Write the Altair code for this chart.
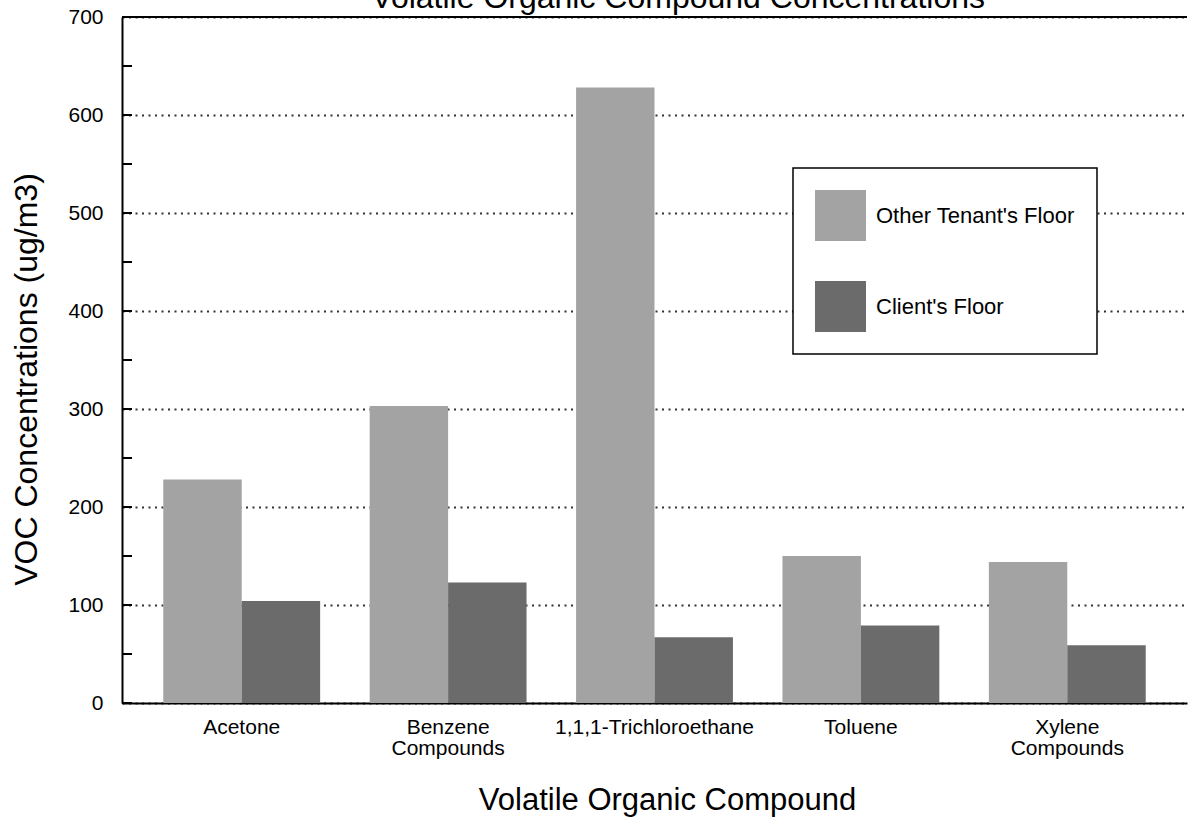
import altair as alt
import pandas as pd

# Category labels and measured concentrations (ug/m3)
compounds = ["Acetone", "Benzene Compounds", "1,1,1-Trichloroethane", "Toluene", "Xylene Compounds"]
floors = ["Other Tenant's Floor", "Client's Floor"]
other_tenant = [228, 303, 628, 150, 144]
client_floor = [104, 123, 67, 79, 59]

# Axis tick values (major every 100, minor every 50)
y_labels = [0, 100, 200, 300, 400, 500, 600, 700]
y_ticks = [0, 50, 100, 150, 200, 250, 300, 350, 400, 450, 500, 550, 600, 650, 700]

title_text = "Volatile Organic Compound Concentrations"

W, H = 1065, 686
FONT = "Liberation Sans"

rows = []
for c, o, k in zip(compounds, other_tenant, client_floor):
    rows.append({"compound": c, "floor": floors[0], "value": o})
    rows.append({"compound": c, "floor": floors[1], "value": k})
df = pd.DataFrame(rows)

y_scale = alt.Scale(domain=[0, 700], nice=False)

bars = alt.Chart(df).mark_bar(strokeWidth=0).encode(
    x=alt.X(
        "compound:N",
        sort=compounds,
        title="Volatile Organic Compound",
        scale=alt.Scale(paddingInner=0.24, paddingOuter=0.2),
        axis=alt.Axis(
            labelAngle=0,
            labelExpr="split(datum.label, ' ')",
            labelFontSize=21,
            labelLineHeight=21,
            labelPadding=13,
            labelColor="black",
            labelLimit=0,
            ticks=False,
            domainColor="black",
            domainWidth=2,
            titleFontSize=31,
            titleFontWeight="normal",
            titleColor="black",
            titlePadding=27,
            titleX=545,
        ),
    ),
    xOffset=alt.XOffset("floor:N", sort=floors, scale=alt.Scale(paddingInner=0, paddingOuter=0)),
    y=alt.Y(
        "value:Q",
        scale=y_scale,
        title="VOC Concentrations (ug/m3)",
        axis=alt.Axis(
            values=y_labels,
            grid=True,
            gridDash=[2, 4.5],
            gridColor="#333333",
            gridWidth=1.8,
            ticks=False,
            domainColor="black",
            domainWidth=2,
            labelFontSize=21,
            labelPadding=19,
            labelColor="black",
            titleFontSize=32,
            titleFontWeight="normal",
            titleColor="black",
            titlePadding=24,
            titleY=362,
        ),
    ),
    color=alt.Color(
        "floor:N",
        sort=floors,
        scale=alt.Scale(domain=floors, range=["#a3a3a3", "#6b6b6b"]),
        legend=alt.Legend(
            orient="none",
            legendX=671,
            legendY=151,
            title=None,
            symbolType="square",
            symbolSize=2600,
            symbolStrokeWidth=0,
            labelFontSize=22,
            labelColor="black",
            labelLimit=0,
            labelOffset=10,
            padding=22,
            rowPadding=40,
            strokeColor="black",
            fillColor="white",
        ),
    ),
)

# Inward tick marks on the value axis
ticks = alt.Chart(pd.DataFrame({"value": y_ticks})).mark_rule(color="black", strokeWidth=2).encode(
    y=alt.Y("value:Q", scale=y_scale),
    x=alt.value(0),
    x2=alt.value(10),
)

# Solid top border of the frame
top_rule = alt.Chart(pd.DataFrame({"value": [700]})).mark_rule(color="black", strokeWidth=2).encode(
    y=alt.Y("value:Q", scale=y_scale),
    x=alt.value(0),
    x2=alt.value(W),
)

# Chart heading sitting above the frame
heading = alt.Chart(pd.DataFrame({"t": [title_text]})).mark_text(
    font=FONT, fontSize=32, align="right", baseline="alphabetic", color="black"
).encode(
    text="t:N",
    x=alt.value(863),
    y=alt.value(-9),
)

chart = alt.layer(bars, ticks, top_rule, heading).properties(
    width=W,
    height=H,
    autosize=alt.AutoSizeParams(type="none"),
    padding={"left": 122, "top": 17, "right": 2, "bottom": 125},
).configure(
    font=FONT,
    background="white",
).configure_view(
    stroke=None,
).configure_legend(
    strokeWidth=1.5,
)

chart.save("out.html", embed_options={"renderer": "svg", "actions": False})
